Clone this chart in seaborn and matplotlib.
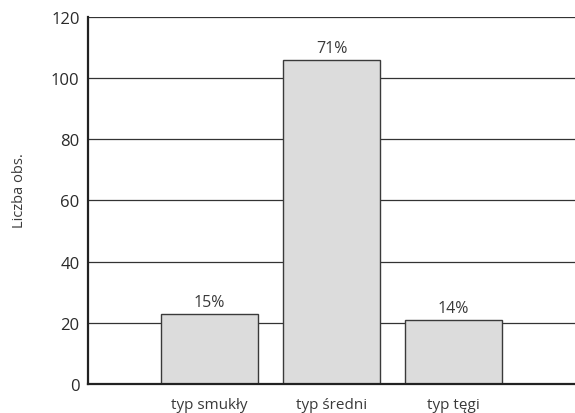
import matplotlib
matplotlib.use("Agg")
import matplotlib.pyplot as plt
import seaborn as sns
import pandas as pd

categories = ["typ smukły", "typ średni", "typ tęgi"]
counts = [23, 106, 21]
percent_labels = ["15%", "71%", "14%"]

df = pd.DataFrame({"typ": categories, "n": counts})

sns.set_theme(style="white")
plt.rcParams["font.family"] = ["Open Sans", "DejaVu Sans"]

fig = plt.figure(figsize=(5.75, 4.14), dpi=100)
ax = fig.add_axes([0.153, 0.07, 0.847, 0.887])

ax.set_axisbelow(True)
ax.yaxis.grid(True, color="#333333", linewidth=0.9)
sns.barplot(data=df, x="typ", y="n", order=categories, color="#dcdcdc",
            saturation=1, edgecolor="#3a3a3a", linewidth=1.0, width=0.8, ax=ax)

for i, (v, lab) in enumerate(zip(counts, percent_labels)):
    ax.text(i, v + 1.2, lab, ha="center", va="bottom", fontsize=11.5,
            color="#3a3a3a")

ax.set_xlim(-1, 3)
ax.set_ylim(0, 120)
ax.set_yticks(range(0, 121, 20))
ax.set_xlabel("")
ax.set_ylabel("Liczba obs.", fontsize=10.5, color="#3a3a3a", labelpad=17,
              y=0.53)
ax.tick_params(axis="y", labelsize=12, colors="#2a2a2a", length=0, pad=6)
ax.tick_params(axis="x", labelsize=11, colors="#3a3a3a", length=0, pad=9)

for side in ["right", "top"]:
    ax.spines[side].set_visible(False)
for side in ["left", "bottom"]:
    ax.spines[side].set_color("#222222")
    ax.spines[side].set_linewidth(1.6)

fig.savefig("out.png", dpi=100)
